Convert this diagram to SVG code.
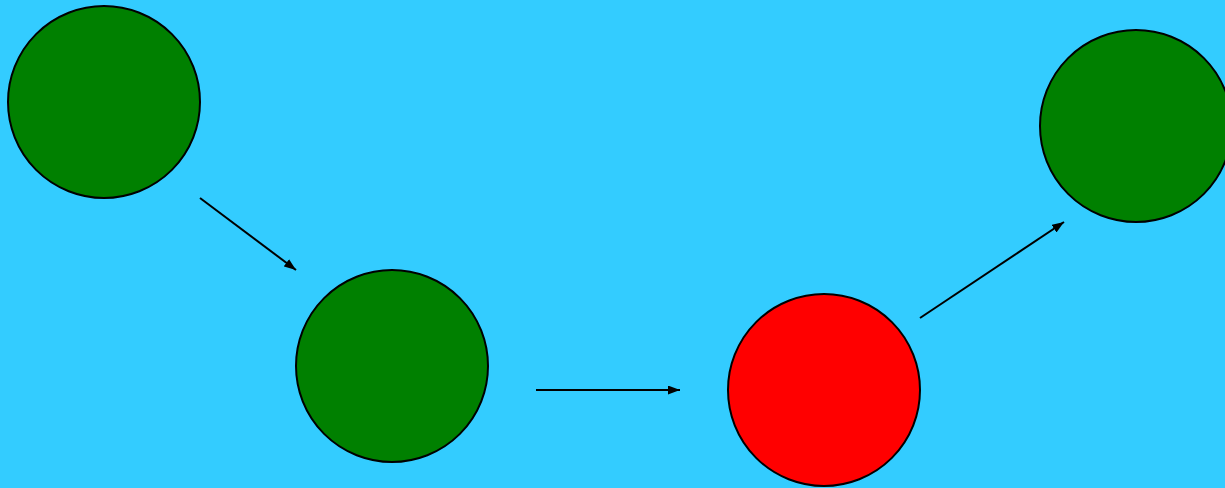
<svg xmlns="http://www.w3.org/2000/svg" width="1225" height="488" viewBox="0 0 1225 488">
<style>
.node{stroke:#000;stroke-width:2}
.g{fill:#008000}
.r{fill:#ff0000}
.edge{stroke:#000;stroke-width:2;fill:none;marker-end:url(#arr)}
</style>
<defs>
<marker id="arr" markerUnits="userSpaceOnUse" markerWidth="13" markerHeight="10" refX="12" refY="4.5" orient="auto">
<path d="M0,0 L12,4.5 L0,9 Z" fill="#000"/>
</marker>
</defs>
<rect width="1225" height="488" fill="#33ccff"/>
<g id="connectors">
<line class="edge" x1="200" y1="198" x2="296" y2="270"/>
<line class="edge" x1="536" y1="390" x2="680" y2="390"/>
<line class="edge" x1="920" y1="318" x2="1064" y2="222"/>
</g>
<g id="node1"><circle class="node g" cx="104" cy="102" r="96"/></g>
<g id="node2"><circle class="node g" cx="392" cy="366" r="96"/></g>
<g id="node3"><circle class="node r" cx="824" cy="390" r="96"/></g>
<g id="node4"><circle class="node g" cx="1136" cy="126" r="96"/></g>
</svg>
